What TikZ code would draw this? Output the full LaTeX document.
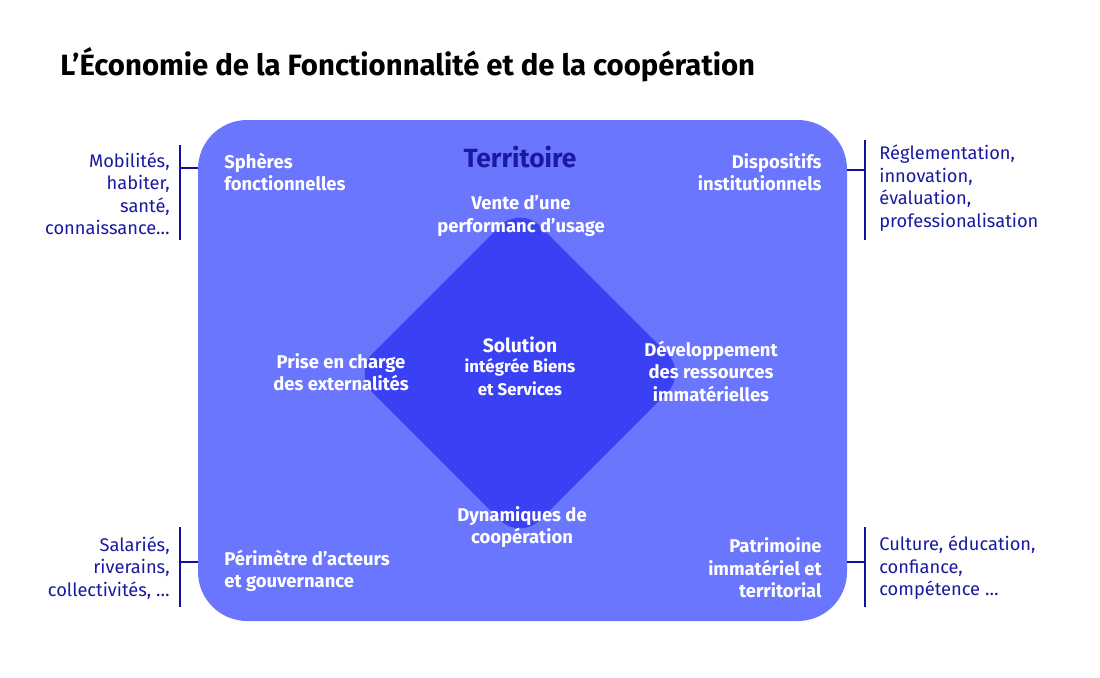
\documentclass[tikz,border=0pt]{standalone}
\usepackage{fontspec}
\setmainfont{Fira Sans}
\usetikzlibrary{positioning}
\definecolor{terr}{HTML}{6B76FF}
\definecolor{diam}{HTML}{3A41F5}
\definecolor{ink}{HTML}{1A1AA0}
\definecolor{bar}{HTML}{101098}
\begin{document}
\begin{tikzpicture}[x=0.02cm,y=-0.02cm,
    lbl/.style={text=white, font=\fontsize{10.5}{12.8}\selectfont\bfseries, align=center, inner sep=0pt},
    side/.style={text=ink, font=\fontsize{10.4}{12.8}\selectfont, inner sep=0pt},
    brk/.style={draw=bar, line width=1.3pt}
]
\useasboundingbox[fill=white] (0,0) rectangle (1100,677);

\node[anchor=west, font=\fontsize{16.7}{19}\selectfont\bfseries, inner sep=0pt] (title) at (60,65) {L’Économie de la Fonctionnalité et de la coopération};

% Territoire and solution
\fill[terr, rounded corners=28] (198,120) rectangle (847,621);
\fill[diam, rounded corners=16] (520,206) -- (687,373) -- (520,540) -- (353,373) -- cycle;

\node[text=ink, font=\fontsize{15}{18}\selectfont\bfseries] (terre) at (520,157) {Territoire};
\node[lbl] (sol) at (520,366) {\fontsize{11}{13}\selectfont Solution\\[-1pt]\fontsize{9.6}{11.5}\selectfont intégrée Biens\\ \fontsize{9.6}{11.5}\selectfont et Services};

\node[lbl] (vente) at (521,216) {Vente d’une\\ performanc d’usage};
\node[lbl] (prise) at (341,372) {Prise en charge\\ des externalités};
\node[lbl] (dev) at (711,371) {Développement\\ des ressources\\ immatérielles};
\node[lbl] (dyna) at (522,527) {Dynamiques de\\ coopération};

\node[lbl, align=left, anchor=west] (sph) at (224,172) {Sphères\\ fonctionnelles};
\node[lbl, align=right, anchor=east] (disp) at (822,172) {Dispositifs\\ institutionnels};
\node[lbl, align=left, anchor=west] (peri) at (224,571) {Périmètre d’acteurs\\ et gouvernance};
\node[lbl, align=right, anchor=east] (patr) at (822,568) {Patrimoine\\ immatériel et\\ territorial};

% side notes
\node[side, align=right, anchor=east] (mob) at (170,194) {Mobilités,\\ habiter,\\ santé,\\ connaissance…};
\node[side, align=right, anchor=east] (sal) at (170,568) {Salariés,\\ riverains,\\ collectivités, …};
\node[side, align=left, anchor=west] (regl) at (879,188) {Réglementation,\\ innovation,\\ évaluation,\\ professionalisation};
\node[side, align=left, anchor=west] (cult) at (879,568) {Culture, éducation,\\ confiance,\\ compétence …};

\draw[brk] (180,145) -- (180,240) (180,168) -- (198,168);
\draw[brk] (180,527) -- (180,607) (180,562) -- (198,562);
\draw[brk] (865,140) -- (865,240) (865,170) -- (847,170);
\draw[brk] (865,527) -- (865,607) (865,562) -- (847,562);
\end{tikzpicture}
\end{document}
